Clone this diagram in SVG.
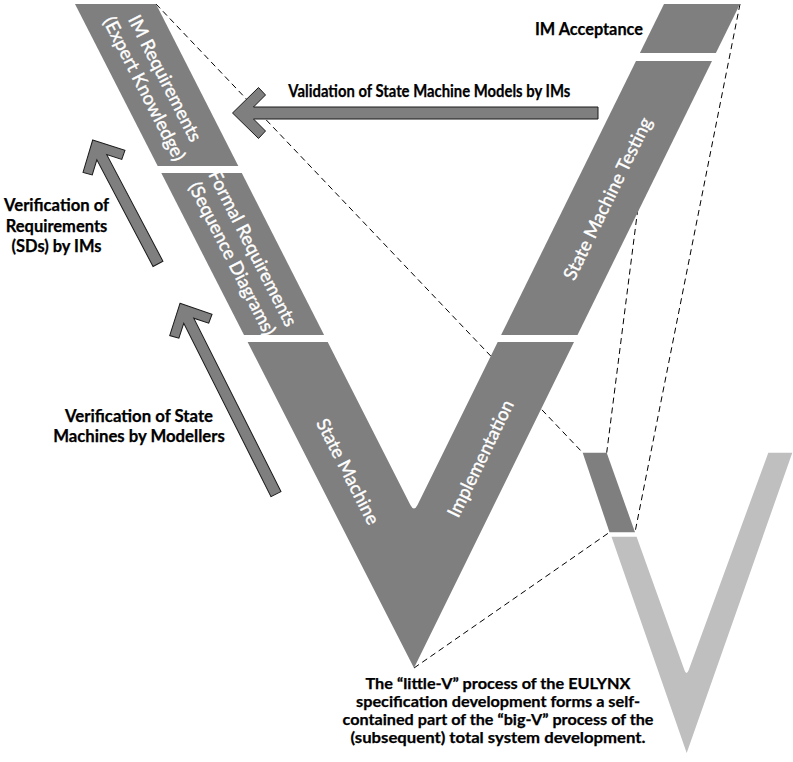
<svg xmlns="http://www.w3.org/2000/svg" width="793" height="762" viewBox="0 0 793 762">
<style>
.bg{fill:#ffffff}
.seg{fill:#7f7f7f}
.big{fill:#bfbfbf}
.dash{fill:none;stroke:#000;stroke-width:1;stroke-dasharray:6 4}
.arr{fill:#7f7f7f;stroke:#1a1a1a;stroke-width:1;stroke-linejoin:miter}
.wt{font-family:Lato,"Open Sans","Liberation Sans",sans-serif;font-size:18.5px;fill:#ffffff;stroke:#ffffff;stroke-width:0.35;text-anchor:middle}
.lbl{font-family:Lato,"Open Sans","Liberation Sans",sans-serif;font-size:16.5px;font-weight:700;fill:#000000;stroke:#000000;stroke-width:0.25}
.cap{font-size:15px}
.mid{text-anchor:middle}
.end{text-anchor:end}
</style>
<rect class="bg" x="0" y="0" width="793" height="762"/>
<g id="connectors">
<path class="dash" d="M156,4 L582.7,452.7"/>
<path class="dash" d="M651.7,100 L606.7,452.7"/>
<path class="dash" d="M740,4 L635,532.3"/>
<path class="dash" d="M414,668 L609.5,532.3"/>
</g>
<g id="im-requirements">
<polygon class="seg" points="75,4 156,4 238.3,166 157.7,166"/>
<text class="wt" transform="translate(154.8,83.4) rotate(63)"><tspan x="0" y="-5">IM Requirements</tspan><tspan x="0" y="18">(Expert Knowledge)</tspan></text>
</g>
<g id="formal-requirements">
<polygon class="seg" points="161.3,173 241.8,173 324.1,335 244,335"/>
<text class="wt" transform="translate(242.6,253.4) rotate(63)"><tspan x="0" y="-5">Formal Requirements</tspan><tspan x="0" y="18">(Sequence Diagrams)</tspan></text>
</g>
<g id="state-machine-implementation">
<path class="seg" d="M247.6,342 L327.7,342 L410.4,505 Q414,512 417.5,505 L497.7,342 L574,342 L414,668 Z"/>
<text class="wt" transform="translate(348,471.5) rotate(63)" y="6.5">State Machine</text>
<text class="wt" transform="translate(480.5,458.5) rotate(-64)" y="6.5">Implementation</text>
</g>
<g id="state-machine-testing">
<polygon class="seg" points="636,61 712,61 577.5,335 501.1,335"/>
<text class="wt" transform="translate(607.5,198.5) rotate(-64)" y="6.5">State Machine Testing</text>
</g>
<g id="im-acceptance">
<polygon class="seg" points="664,4 740,4 715.9,53 639.9,53"/>
<text class="lbl end" x="643" y="35" textLength="108" lengthAdjust="spacingAndGlyphs">IM Acceptance</text>
</g>
<g id="big-v">
<polygon class="seg" points="582.7,452.7 606.7,452.7 635,532.3 609.5,532.3"/>
<path class="big" d="M611.5,536.7 L636.6,536.7 L684.4,670 Q686.5,676 688.7,670 L768.3,452.7 L792.3,452.7 L686.7,753 Z"/>
</g>
<g id="arrow-validation">
<polygon class="arr" transform="translate(232.5,113)" points="0,0 26,-25.5 33,-18 21,-6 365.5,-6 365.5,6 21,6 33,18 26,25.5"/>
<text class="lbl" x="288.3" y="97" textLength="282" lengthAdjust="spacingAndGlyphs">Validation of State Machine Models by IMs</text>
</g>
<g id="arrow-verification-requirements">
<polygon class="arr" transform="translate(92.7,140) rotate(62.2)" points="0,0 24.2,-23.7 30.7,-16.7 19.5,-5.6 140,-5.6 140,5.6 19.5,5.6 30.7,16.7 24.2,23.7"/>
<text class="lbl mid"><tspan x="56.5" y="211" textLength="105" lengthAdjust="spacingAndGlyphs">Verification of</tspan><tspan x="56.5" y="231.7" textLength="101.6" lengthAdjust="spacingAndGlyphs">Requirements</tspan><tspan x="56.5" y="251.7" textLength="90" lengthAdjust="spacingAndGlyphs">(SDs) by IMs</tspan></text>
</g>
<g id="arrow-verification-state-machines">
<polygon class="arr" transform="translate(180,303.3) rotate(63.3)" points="0,0 24.2,-23.7 30.7,-16.7 19.5,-5.6 213.6,-5.6 213.6,5.6 19.5,5.6 30.7,16.7 24.2,23.7"/>
<text class="lbl mid"><tspan x="139" y="421.7" textLength="148" lengthAdjust="spacingAndGlyphs">Verification of State</tspan><tspan x="139" y="441.7" textLength="171.7" lengthAdjust="spacingAndGlyphs">Machines by Modellers</tspan></text>
</g>
<g id="caption">
<text class="lbl cap mid"><tspan x="498" y="689" textLength="265" lengthAdjust="spacingAndGlyphs">The “little-V” process of the EULYNX</tspan><tspan x="498" y="707" textLength="284" lengthAdjust="spacingAndGlyphs">specification development forms a self-</tspan><tspan x="498" y="725" textLength="311" lengthAdjust="spacingAndGlyphs">contained part of the “big-V” process of the</tspan><tspan x="498" y="743" textLength="295" lengthAdjust="spacingAndGlyphs">(subsequent) total system development.</tspan></text>
</g>
</svg>
